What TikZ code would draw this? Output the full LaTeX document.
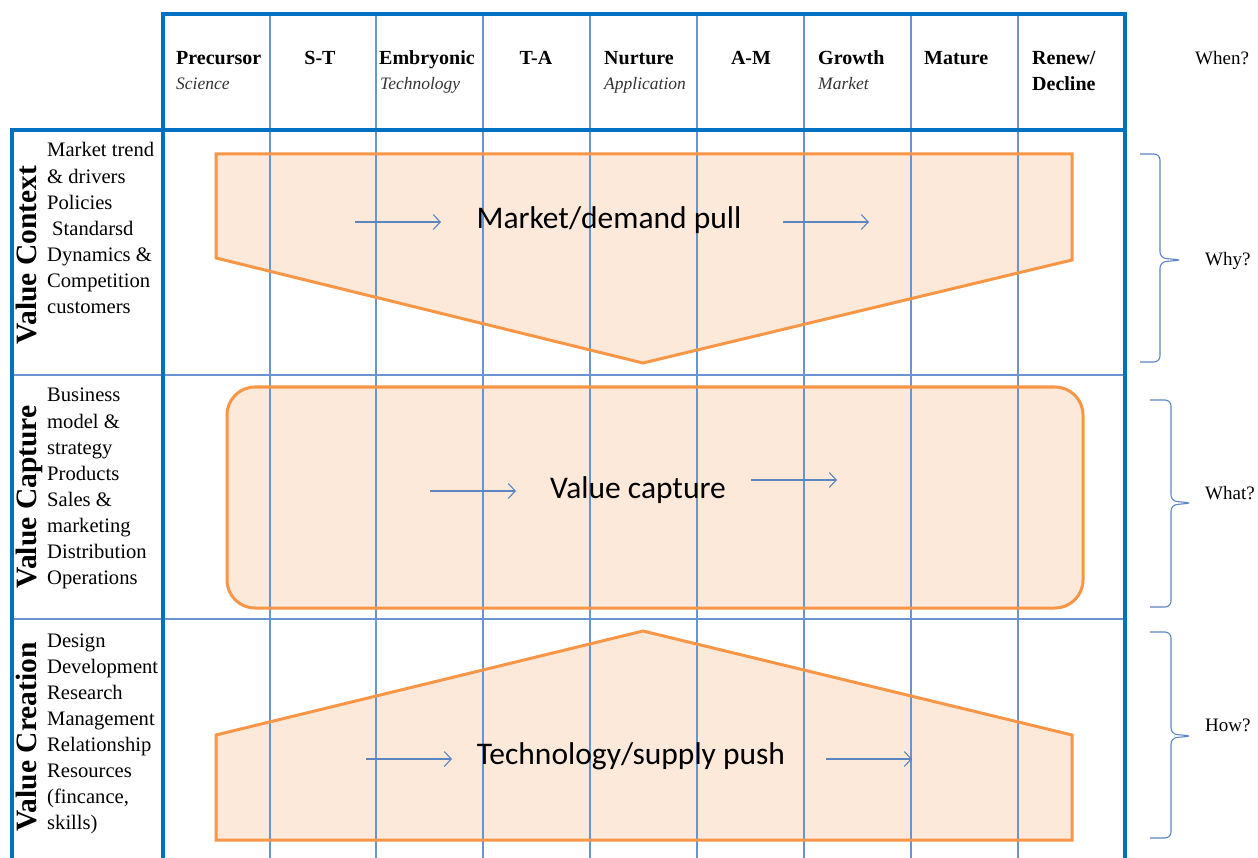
\documentclass[tikz,border=0pt]{standalone}
\usepackage{fontspec}
\setmainfont{Liberation Serif}
\newfontfamily\calibrifont{Carlito}
\usetikzlibrary{arrows.meta}
\definecolor{frameblue}{HTML}{0070C0}
\definecolor{gridblue}{HTML}{6A94CF}
\definecolor{flowblue}{HTML}{5B86C2}
\definecolor{shapeline}{HTML}{F79646}
\definecolor{shapefill}{HTML}{FDE9DA}
\begin{document}
\begin{tikzpicture}[x=1pt,y=-1pt,
  frame/.style={draw=frameblue,line width=3.6pt},
  gridline/.style={draw=gridblue,line width=1.1pt},
  stageshape/.style={draw=shapeline,line width=3pt,line join=miter},
  flow/.style={draw=flowblue,line width=1.1pt,-{Straight Barb[length=7pt,width=15pt,line width=1.1pt]}},
  bracestyle/.style={draw=flowblue,line width=1.1pt,rounded corners=6pt},
  hdr/.style={font=\fontsize{20}{24}\selectfont\bfseries,inner sep=0pt},
  sub/.style={font=\fontsize{17.5}{20}\selectfont\itshape,text=black!80,inner sep=0pt,anchor=base west},
  desc/.style={font=\fontsize{20.6}{26}\selectfont,inner sep=0pt,anchor=base west},
  rowtitle/.style={font=\fontsize{29.5}{32}\selectfont\bfseries,rotate=90,anchor=base,inner sep=0pt},
  flowlabel/.style={font=\calibrifont\fontsize{31.5}{36}\selectfont,inner sep=0pt,anchor=base},
  ask/.style={font=\fontsize{19}{22}\selectfont,inner sep=0pt,anchor=base west}]
\useasboundingbox (0,0) rectangle (1258,858);
\fill[white] (0,0) rectangle (1258,858);

% stage shapes: fills first so the grid stays visible through them
\fill[shapefill] (216,154) -- (1072,154) -- (1072,260) -- (643,363) -- (216,258) -- cycle;
\fill[shapefill,rounded corners=28pt] (227,387) rectangle (1083,608);
\fill[shapefill] (216,735) -- (643,631) -- (1072,735) -- (1072,840) -- (216,840) -- cycle;

% column and row grid
\foreach \x in {270,376,483,590,697,804,911,1018}
  \draw[gridline] (\x,14) -- (\x,858);
\foreach \y in {375,619}
  \draw[gridline] (12,\y) -- (1125,\y);

% stage outlines
\draw[stageshape] (216,154) -- (1072,154) -- (1072,260) -- (643,363) -- (216,258) -- cycle;
\draw[stageshape,rounded corners=28pt] (227,387) rectangle (1083,608);
\draw[stageshape] (216,735) -- (643,631) -- (1072,735) -- (1072,840) -- (216,840) -- cycle;

% outer frame
\draw[frame] (163,858) -- (163,14) -- (1125,14) -- (1125,858);
\draw[frame] (12,858) -- (12,130) -- (1125,130);

% column headings
\node[hdr,anchor=base west] (h1) at (176,65) {Precursor};
\node[sub] (h1s) at (176,90) {Science};
\node[hdr,anchor=base] (h2) at (320,65) {S-T};
\node[hdr,anchor=base west] (h3) at (379,65) {Embryonic};
\node[sub] (h3s) at (380,90) {Technology};
\node[hdr,anchor=base] (h4) at (536,65) {T-A};
\node[hdr,anchor=base west] (h5) at (604,65) {Nurture};
\node[sub] (h5s) at (604,90) {Application};
\node[hdr,anchor=base] (h6) at (751,65) {A-M};
\node[hdr,anchor=base west] (h7) at (818,65) {Growth};
\node[sub] (h7s) at (818,90) {Market};
\node[hdr,anchor=base west] (h8) at (924,65) {Mature};
\node[hdr,anchor=base west] (h9) at (1032,65) {Renew/};
\node[hdr,anchor=base west] (h9b) at (1032,91) {Decline};
\node[ask] (when) at (1195,65) {When?};

% row titles
\node[rowtitle] (rctx) at (36,255) {Value Context};
\node[rowtitle] (rcap) at (36,497) {Value Capture};
\node[rowtitle] (rcre) at (36,737) {Value Creation};

% row descriptions
\foreach \t [count=\i] in {Market trend,\& drivers,Policies,\hspace*{5pt}Standarsd,Dynamics \&,Competition,customers}
  \node[desc] (ctx\i) at (47,{157+26.1*(\i-1)}) {\t};
\foreach \t [count=\i] in {Business,model \&,strategy,Products,Sales \&,marketing,Distribution,Operations}
  \node[desc] (cap\i) at (47,{402+26.1*(\i-1)}) {\t};
\foreach \t [count=\i] in {Design,Development,Research,Management,Relationship,Resources,{(fincance,},skills)}
  \node[desc] (cre\i) at (47,{647+26.1*(\i-1)}) {\t};

% stage labels
\node[flowlabel] (pull) at (609,229) {Market/demand pull};
\node[flowlabel] (capt) at (638,498) {Value capture};
\node[flowlabel] (push) at (631,764) {Technology/supply push};

% flow arrows
\coordinate (pa1) at (355,222); \coordinate (pb1) at (441,222);
\coordinate (pa2) at (783,222); \coordinate (pb2) at (869,222);
\coordinate (ca1) at (430,491); \coordinate (cb1) at (516,491);
\coordinate (ca2) at (751,480); \coordinate (cb2) at (837,480);
\coordinate (ta1) at (366,759); \coordinate (tb1) at (452,759);
\coordinate (ta2) at (826,759); \coordinate (tb2) at (912,759);
\draw[flow] (pa1) -- (pb1);
\draw[flow] (pa2) -- (pb2);
\draw[flow] (ca1) -- (cb1);
\draw[flow] (ca2) -- (cb2);
\draw[flow] (ta1) -- (tb1);
\draw[flow] (ta2) -- (tb2);

% braces and questions
\draw[bracestyle] (1140,154) -- (1160,154) -- (1160,258) -- (1182,260) -- (1160,262) -- (1160,362) -- (1140,362);
\draw[bracestyle] (1150,400) -- (1171,400) -- (1171,501) -- (1192,503) -- (1171,505) -- (1171,607) -- (1150,607);
\draw[bracestyle] (1150,632) -- (1171,632) -- (1171,734) -- (1192,736) -- (1171,738) -- (1171,838) -- (1150,838);
\node[ask] (why) at (1205,266) {Why?};
\node[ask] (what) at (1205,499) {What?};
\node[ask] (how) at (1205,731) {How?};
\end{tikzpicture}
\end{document}
